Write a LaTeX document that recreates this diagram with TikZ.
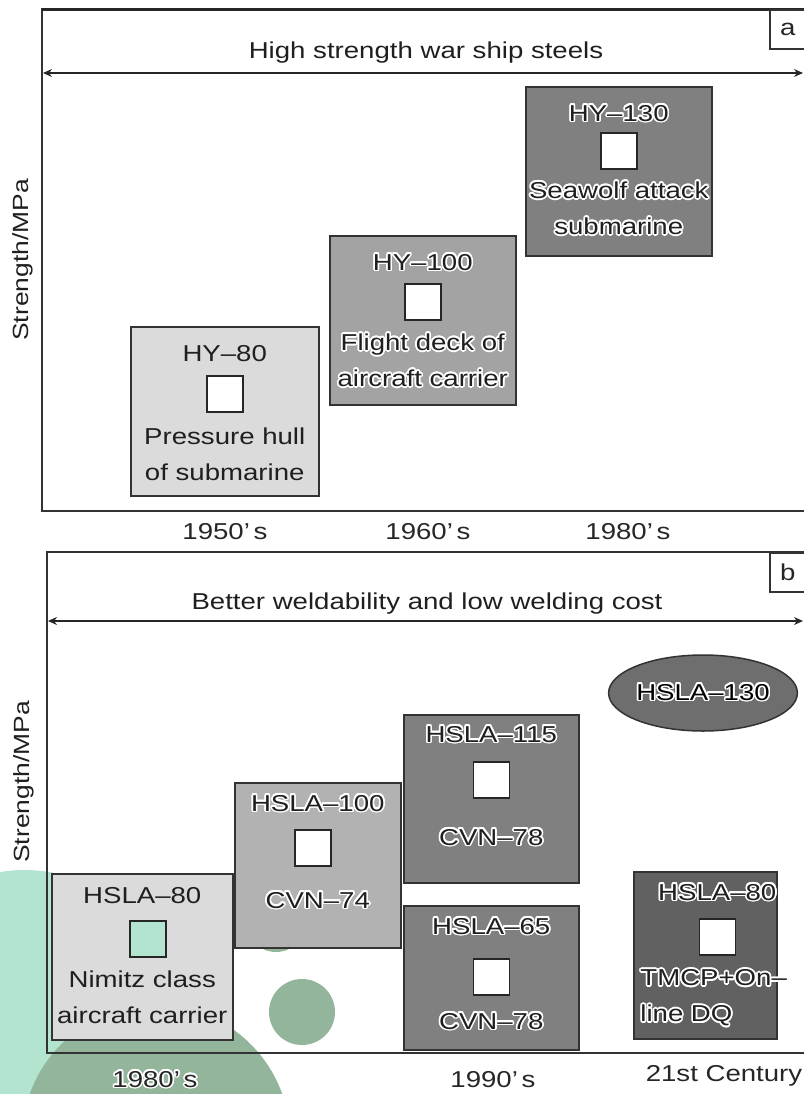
\documentclass[tikz,border=0pt]{standalone}
\usepackage{fontspec}
\setmainfont[FakeStretch=1.2]{Liberation Sans}
\usepackage{contour}
\contourlength{0.8pt}
\usetikzlibrary{arrows.meta, positioning, shapes.geometric}

\definecolor{steellight}{gray}{0.86}
\definecolor{steelmid}{gray}{0.64}
\definecolor{steelpale}{gray}{0.70}
\definecolor{steeldark}{gray}{0.50}
\definecolor{steeldeep}{gray}{0.43}
\definecolor{steelnight}{gray}{0.38}
\definecolor{overlaymint}{HTML}{B2E4D0}
\definecolor{overlaygreen}{HTML}{93B59B}

\newcommand{\glow}[1]{\contour{white}{#1}}

\begin{document}
\begin{tikzpicture}[
    % one unit = one pixel of the reference, y pointing down
    x=0.5pt,
    y=-0.5pt,
    font=\fontsize{11.5}{18}\selectfont,
    >={Stealth[length=4.5pt, width=4pt]},
    steelcard/.style={draw=black!80, line width=0.75pt, inner sep=0pt, anchor=north west},
    sample/.style={draw=black!85, line width=0.75pt, fill=white, minimum size=18pt, inner sep=0pt},
    caption/.style={inner sep=0pt, align=center, text=black!88},
    panel/.style={draw=black!80, line width=1pt},
    tagbox/.style={draw=black!80, line width=0.75pt, anchor=north west, minimum width=20pt, inner sep=0pt, text=black!85},
    timeline/.style={<->, line width=0.6pt, black!85},
    decade/.style={inner sep=0pt, text=black!85}
]
    \useasboundingbox (0,0) rectangle (804,1094);

    % --- Green overlay spots (behind the figure) ---
    \fill[overlaymint] (25,1020) circle[radius=150];
    \fill[overlaygreen] (156,1139) circle[radius=134];
    \fill[overlaygreen] (302,1012) circle[radius=33];
    \fill[overlaygreen] (276,922) circle[radius=30];

    % ===================== Panel a =====================
    \draw[panel] (810,9) -- (42,9) -- (42,511) -- (810,511);
    \draw[line width=1.5pt, black!85] (42,9) -- (810,9);
    \node[tagbox, minimum height=19.5pt] (tag-a) at (769,9) {a\hspace*{2pt}};

    \node[caption] (title-a) at (426,53) {High strength war ship steels};
    \coordinate (a-start) at (43,73);
    \coordinate (a-end) at (803,73);
    \draw[timeline] (a-start) -- (a-end);

    \node[caption, rotate=90, font=\fontsize{11}{13}\selectfont] (axis-a) at (23,260) {Strength/MPa};

    % --- HY-80 ---
    \node[steelcard, fill=steellight, minimum width=94pt, minimum height=84.5pt] (hy80) at (130,326) {};
    \node[caption] (hy80-t) at ([yshift=-14pt]hy80.north) {HY--80};
    \node[sample] (hy80-s) at ([yshift=-34pt]hy80.north) {};
    \node[caption] (hy80-d) at ([yshift=-64pt]hy80.north) {Pressure hull\\of submarine};

    % --- HY-100 ---
    \node[steelcard, fill=steelmid, minimum width=93pt, minimum height=84.5pt] (hy100) at (329,235) {};
    \node[caption] (hy100-t) at ([yshift=-14pt]hy100.north) {\glow{HY--100}};
    \node[sample] (hy100-s) at ([yshift=-33.5pt]hy100.north) {};
    \node[caption] (hy100-d) at ([yshift=-63pt]hy100.north) {\glow{Flight deck of}\\\glow{aircraft carrier}};

    % --- HY-130 ---
    \node[steelcard, fill=steeldark, minimum width=93pt, minimum height=84.5pt] (hy130) at (525,86) {};
    \node[caption] (hy130-t) at ([yshift=-14pt]hy130.north) {\glow{HY--130}};
    \node[sample] (hy130-s) at ([yshift=-32.5pt]hy130.north) {};
    \node[caption] (hy130-d) at ([yshift=-61.5pt]hy130.north) {\glow{Seawolf attack}\\\glow{submarine}};

    % --- decades ---
    \node[decade] (y1950) at (225,532) {1950'\,s};
    \node[decade] (y1960) at (428,532) {1960'\,s};
    \node[decade] (y1980a) at (628,532) {1980'\,s};

    % ===================== Panel b =====================
    \draw[panel] (810,552) -- (47,552) -- (47,1053) -- (810,1053);
    \node[tagbox, minimum height=19.5pt] (tag-b) at (769,552) {b\hspace*{2pt}};

    \node[caption] (title-b) at (427,604) {Better weldability and low welding cost};
    \coordinate (b-start) at (48,621);
    \coordinate (b-end) at (803,621);
    \draw[timeline] (b-start) -- (b-end);

    \node[caption, rotate=90, font=\fontsize{11}{13}\selectfont] (axis-b) at (24,782) {Strength/MPa};

    % --- HSLA-80 (1980's) ---
    \node[steelcard, fill=steellight, minimum width=90.5pt, minimum height=83pt] (hsla80a) at (51,873) {};
    \node[caption] (hsla80a-t) at ([yshift=-11.5pt]hsla80a.north) {HSLA--80};
    \node[sample, fill=overlaymint] (hsla80a-s) at ([xshift=2.75pt, yshift=-33pt]hsla80a.north) {};
    \node[caption] (hsla80a-d) at ([yshift=-62pt]hsla80a.north) {Nimitz class\\aircraft carrier};

    % --- HSLA-100 ---
    \node[steelcard, fill=steelpale, minimum width=83pt, minimum height=82.5pt] (hsla100) at (234,782) {};
    \node[caption] (hsla100-t) at ([yshift=-11pt]hsla100.north) {\glow{HSLA--100}};
    \node[sample] (hsla100-s) at ([xshift=-2.5pt, yshift=-33pt]hsla100.north) {};
    \node[caption] (hsla100-d) at ([yshift=-59.5pt]hsla100.north) {\glow{CVN--74}};

    % --- HSLA-115 ---
    \node[steelcard, fill=steeldark, minimum width=87.5pt, minimum height=84pt] (hsla115) at (403,714) {};
    \node[caption] (hsla115-t) at ([yshift=-10.5pt]hsla115.north) {\glow{HSLA--115}};
    \node[sample] (hsla115-s) at ([yshift=-33pt]hsla115.north) {};
    \node[caption] (hsla115-d) at ([yshift=-62pt]hsla115.north) {\glow{CVN--78}};

    % --- HSLA-65 ---
    \node[steelcard, fill=steeldark, minimum width=87.5pt, minimum height=72pt] (hsla65) at (403,905) {};
    \node[caption] (hsla65-t) at ([yshift=-11pt]hsla65.north) {\glow{HSLA--65}};
    \node[sample] (hsla65-s) at ([yshift=-36pt]hsla65.north) {};
    \node[caption] (hsla65-d) at ([yshift=-58.5pt]hsla65.north) {\glow{CVN--78}};

    % --- HSLA-130 ---
    \node[ellipse, draw=black!80, line width=0.75pt, fill=steeldeep, minimum width=90pt, minimum height=38pt, inner sep=0pt] (hsla130) at (703,693) {\glow{HSLA--130}};

    % --- HSLA-80 (21st century) ---
    \node[steelcard, fill=steelnight, minimum width=71.5pt, minimum height=83.5pt] (hsla80b) at (633,871) {};
    \node[caption] (hsla80b-t) at ([xshift=6pt, yshift=-11pt]hsla80b.north) {\glow{HSLA--80}};
    \node[sample] (hsla80b-s) at ([xshift=6pt, yshift=-33pt]hsla80b.north) {};
    \node[caption, anchor=west, align=left] (hsla80b-d) at ([xshift=3.5pt, yshift=-63.75pt]hsla80b.north west) {\glow{TMCP+On--}\\\glow{line DQ}};

    % --- decades ---
    \node[decade] (y1980b) at (155,1080) {\glow{1980'\,s}};
    \node[decade] (y1990) at (493,1080) {1990'\,s};
    \node[decade] (y2000) at (724,1076) {21st Century};

\end{tikzpicture}
\end{document}
